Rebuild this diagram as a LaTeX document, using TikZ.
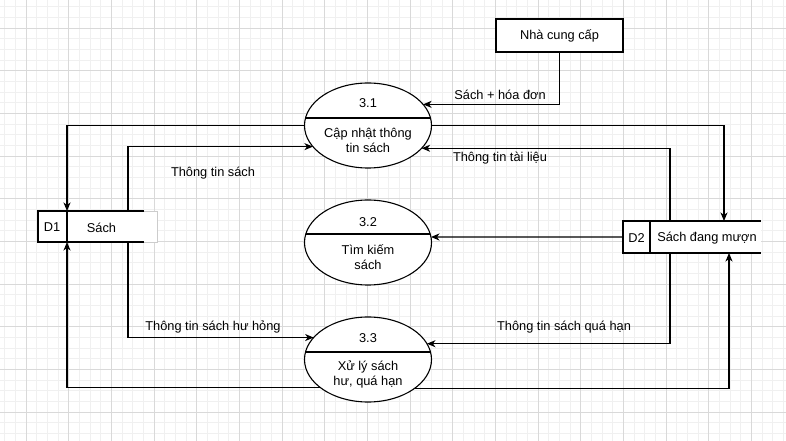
\documentclass[tikz,border=0pt]{standalone}
\usepackage{fontspec}
\setmainfont{Liberation Sans}
\usetikzlibrary{arrows.meta,calc,shapes.geometric}
\begin{document}
\begin{tikzpicture}[x=1bp,y=-1bp,
 gminor/.style={draw=black!6,line width=0.8bp},
 gmajor/.style={draw=black!15,line width=0.8bp},
 lbl/.style={font=\fontsize{12.8bp}{15bp}\selectfont,inner sep=0pt,align=center},
 proc/.style={ellipse,draw,fill=white,line width=1.1bp,minimum width=127bp,minimum height=85bp,inner sep=0pt,outer sep=0pt},
 extbox/.style={draw,fill=white,line width=1.1bp,minimum width=127bp,minimum height=33bp,inner sep=0pt,outer sep=0pt,font=\fontsize{12.8bp}{15bp}\selectfont},
 store/.style={fill=white,inner sep=0pt,outer sep=0pt},
 edge/.style={line width=1.1bp},
 arr/.style={line width=1.1bp,-{Stealth[length=8.5bp,width=7bp,inset=2.5bp]}},
]
\useasboundingbox[fill=white] (0,0) rectangle (786,441);
% grid
\foreach \i in {-2,...,71} \draw[gminor] ({26+\i*10.6667},0) -- ({26+\i*10.6667},441);
\foreach \j in {-2,...,38} \draw[gminor] (0,{28+\j*10.6667}) -- (786,{28+\j*10.6667});
\foreach \i in {0,...,18} \draw[gmajor] ({26+\i*42.6667},0) -- ({26+\i*42.6667},441);
\foreach \j in {0,...,9} \draw[gmajor] (0,{28+\j*42.6667}) -- (786,{28+\j*42.6667});

% external entity
\node[extbox] (s) at (559.5,35.5) {Nhà cung cấp};

% processes
\node[proc] (p1) at (368,125.5) {};
\draw[edge] ($(p1)+(-62.4,-7.5)$) -- ($(p1)+(62.4,-7.5)$);
\node[lbl] (p1n) at ($(p1)+(0,-22.5)$) {3.1};
\node[lbl] (p1t) at ($(p1)+(0,15)$) {Cập nhật thông\\tin sách};

\node[proc] (p2) at (368,242.5) {};
\draw[edge] ($(p2)+(-62.2,-8.5)$) -- ($(p2)+(62.2,-8.5)$);
\node[lbl] (p2n) at ($(p2)+(0,-20.5)$) {3.2};
\node[lbl] (p2t) at ($(p2)+(0,14.5)$) {Tìm kiếm\\sách};

\node[proc] (p3) at (368,359.5) {};
\draw[edge] ($(p3)+(-62.4,-7.5)$) -- ($(p3)+(62.4,-7.5)$);
\node[lbl] (p3n) at ($(p3)+(0,-21.5)$) {3.3};
\node[lbl] (p3t) at ($(p3)+(0,15)$) {Xử lý sách\\hư, quá hạn};

% data store D1
\node[store,minimum width=119bp,minimum height=31bp] (d1) at (97.5,226.5) {};
\draw[black!20,line width=0.8bp] ($(d1.north west)+(106,0)$) -- (d1.north east) -- (d1.south east) -- ($(d1.south west)+(106,0)$);
\draw[edge] ($(d1.north west)+(106,0)$) -- (d1.north west) -- (d1.south west) -- ($(d1.south west)+(106,0)$);
\draw[edge] ($(d1.north west)+(29,0)$) -- ($(d1.south west)+(29,0)$);
\node[lbl] (d1id) at (52,227.5) {D1};
\node[lbl] (d1t) at (101.5,227.5) {Sách};

% data store D2
\node[store,minimum width=138bp,minimum height=32bp] (d2) at (692,237) {};
\draw[edge] (d2.north east) -- (d2.north west) -- (d2.south west) -- (d2.south east);
\draw[edge] ($(d2.north west)+(27,0)$) -- ($(d2.south west)+(27,0)$);
\node[lbl] (d2id) at (636.5,238) {D2};
\node[lbl] (d2t) at (707,238) {Sách đang mượn};

% connectors
\draw[arr] (s.south) |- (p1.21.5);
\node[lbl] (l1) at (500,95) {Sách + hóa đơn};

\draw[arr] (p1.west) -| ($(d1.north west)+(29,0)$);
\draw[arr] (p1.east) -| ($(d2.north west)+(101,0)$);

\draw[arr] ($(d1.north west)+(90,0)$) |- (p1.201.5);
\node[lbl] (l2) at (213,173) {Thông tin sách};

\draw[arr] ($(d2.north west)+(47,0)$) |- (p1.337.3);
\node[lbl] (l3) at (500,158) {Thông tin tài liệu};

\draw[arr] (d2.west) -- (p2.5);

\draw[arr] ($(d1.south west)+(90,0)$) |- (p3.158.5);
\node[lbl] (l4) at (213,327) {Thông tin sách hư hỏng};

\draw[arr] ($(d2.south west)+(47,0)$) |- (p3.15.75);
\node[lbl] (l5) at (564,327) {Thông tin sách quá hạn};

\draw[arr] (p3.211.2) -| ($(d1.south west)+(29,0)$);
\draw[arr] (p3.328.8) -| ($(d2.south west)+(106,0)$);
\end{tikzpicture}
\end{document}
